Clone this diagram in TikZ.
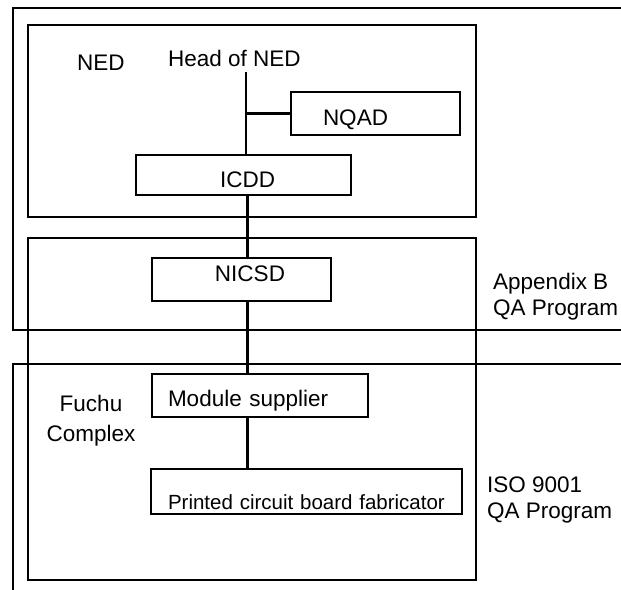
\documentclass[tikz,border=0pt]{standalone}
\usepackage{fontspec}
\setmainfont{Liberation Sans}
\newcommand\lblfont{\fontsize{22.5}{26}\selectfont}

\begin{document}
\begin{tikzpicture}[x=1pt, y=-1pt,
    frame/.style={line width=1.6pt},
    zone/.style={draw, line width=2.6pt},
    unit/.style={draw, line width=2.5pt, inner ysep=0pt, text depth=0pt, font=\lblfont},
    link/.style={line width=2.4pt},
    tag/.style={inner sep=0pt, font=\lblfont, align=left},
]
\useasboundingbox (0,0) rectangle (621,589);
% programme frames, open to the right
\draw[frame] (623,8) -- (13,8) -- (13,330) -- (623,330);
\draw[frame] (623,364) -- (13,364) -- (13,591);
% organisation zones
\draw[zone] (28,25) rectangle (476,217);
\draw[zone] (28,238) rectangle (476,580);

\node[unit, minimum width=169pt, minimum height=43pt, align=left, inner xsep=32pt, text width=105pt, text height=23pt] (nqad) at (375.5,113.5) {NQAD};
\node[unit, minimum width=215pt, minimum height=40pt, align=right, inner xsep=76pt, text width=63pt, text height=25pt] (icdd) at (243.5,175) {ICDD};
\node[unit, minimum width=179pt, minimum height=43pt, align=right, inner xsep=46pt, text width=87pt, text height=3pt] (nicsd) at (241.5,279.5) {NICSD};
\node[unit, minimum width=216pt, minimum height=43pt, align=left, inner xsep=16pt, text width=184pt, text height=21pt] (module) at (260,395.5) {Module supplier};
\node[unit, minimum width=311pt, minimum height=45pt, align=left, inner xsep=17pt, text width=277pt, text height=35pt, font=\fontsize{20.5}{24}\selectfont] (pcb) at (306.5,491.5) {Printed circuit board fabricator};

\node[tag, anchor=base west] (nedtag) at (77,70) {NED};
\node[tag, anchor=base west] (head) at (168,66) {Head of NED};
\node[tag, anchor=north, align=center, font=\fontsize{22.5}{30}\selectfont] (fuchu) at (91,395) {Fuchu\\Complex};
\node[tag, anchor=north west] (appb) at (493,273) {Appendix B\\QA Program};
\node[tag, anchor=north west] (iso) at (487,477) {ISO 9001\\QA Program};

\coordinate (trunk) at (246,72);
\coordinate (spine) at (247.5,0);
\draw[link] (trunk) -- (trunk |- icdd.north);
\draw[link] (trunk |- nqad.west) -- (nqad.west);
\draw[link] (spine |- icdd.south) -- (spine |- nicsd.north);
\draw[link] (spine |- nicsd.south) -- (spine |- module.north);
\draw[link] (spine |- module.south) -- (spine |- pcb.north);
\end{tikzpicture}
\end{document}
